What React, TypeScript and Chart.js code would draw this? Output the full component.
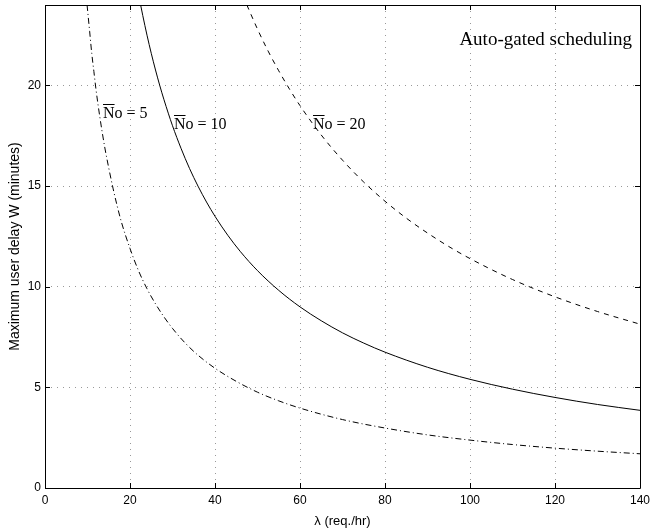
import React, { useEffect, useRef } from "react";
import { Chart, registerables } from "chart.js";

Chart.register(...registerables);

// No = 5 (dash-dot)
const lambda5 = [9.9, 10.5, 11, 11.5, 12, 13, 14, 15, 16, 17, 18, 20, 22, 24, 26, 28, 30, 33, 36, 40, 45, 50, 55, 60, 70, 80, 90, 100, 110, 120, 130, 140];
const w5 = [24.0, 22.7, 21.6, 20.7, 19.8, 18.3, 17.0, 15.9, 14.9, 14.0, 13.2, 11.9, 10.8, 9.9, 9.15, 8.5, 7.93, 7.2, 6.6, 5.95, 5.3, 4.76, 4.33, 3.97, 3.4, 2.98, 2.64, 2.38, 2.16, 1.98, 1.83, 1.7];

// No = 10 (solid)
const lambda10 = [22.5, 23, 24, 25, 26, 27, 28, 30, 32, 34, 36, 38, 40, 43, 46, 50, 55, 60, 65, 70, 75, 80, 90, 100, 110, 120, 130, 140];
const w10 = [24.0, 23.48, 22.5, 21.6, 20.77, 20.0, 19.29, 18.0, 16.88, 15.88, 15.0, 14.21, 13.5, 12.56, 11.74, 10.8, 9.82, 9.0, 8.31, 7.71, 7.2, 6.75, 6.0, 5.4, 4.91, 4.5, 4.15, 3.86];

// No = 20 (dashed)
const lambda20 = [47.5, 50, 52.5, 55, 57.5, 60, 65, 70, 75, 80, 85, 90, 95, 100, 110, 120, 130, 140];
const w20 = [24.0, 22.8, 21.71, 20.73, 19.83, 19.0, 17.54, 16.29, 15.2, 14.25, 13.41, 12.67, 12.0, 11.4, 10.36, 9.5, 8.77, 8.14];

const curveLabels = ["No = 5", "No = 10", "No = 20"];
const labelPos = [
  [13.65, 18.4],
  [30.35, 17.86],
  [63.06, 17.86],
];
const titleText = "Auto-gated scheduling";
const titlePos = [138.1, 22.0];
const xTitle = "λ (req./hr)";
const yTitle = "Maximum user delay W (minutes)";

const toPts = (xs: number[], ys: number[]) => xs.map((x, i) => ({ x, y: ys[i] }));

const framePlugin = {
  id: "frameAndText",
  afterDraw(chart: any) {
    const { ctx, chartArea } = chart;
    const xs = chart.scales.x;
    const ys = chart.scales.y;
    const { left, right, top, bottom } = chartArea;
    ctx.save();
    ctx.strokeStyle = "#000";
    ctx.lineWidth = 1;
    ctx.setLineDash([]);
    ctx.beginPath();
    ctx.rect(Math.round(left) + 0.5, Math.round(top) + 0.5, Math.round(right - left), Math.round(bottom - top));
    ctx.stroke();
    const tl = 5;
    ctx.beginPath();
    xs.ticks.forEach((t: any) => {
      const px = Math.round(xs.getPixelForValue(t.value)) + 0.5;
      ctx.moveTo(px, bottom);
      ctx.lineTo(px, bottom - tl);
      ctx.moveTo(px, top);
      ctx.lineTo(px, top + tl);
    });
    ys.ticks.forEach((t: any) => {
      const py = Math.round(ys.getPixelForValue(t.value)) + 0.5;
      ctx.moveTo(left, py);
      ctx.lineTo(left + tl, py);
      ctx.moveTo(right, py);
      ctx.lineTo(right - tl, py);
    });
    ctx.stroke();

    // curve labels
    ctx.fillStyle = "#000";
    ctx.textBaseline = "alphabetic";
    ctx.textAlign = "left";
    ctx.font = '16px "Liberation Serif", "Times New Roman", serif';
    curveLabels.forEach((txt, i) => {
      const px = xs.getPixelForValue(labelPos[i][0]);
      const py = ys.getPixelForValue(labelPos[i][1]);
      ctx.fillText(txt, px, py);
      const nW = ctx.measureText("N").width;
      ctx.beginPath();
      ctx.moveTo(px, Math.round(py - 14) + 0.5);
      ctx.lineTo(px + nW, Math.round(py - 14) + 0.5);
      ctx.stroke();
    });

    ctx.font = '19px "Liberation Serif", "Times New Roman", serif';
    ctx.textAlign = "right";
    ctx.fillText(titleText, xs.getPixelForValue(titlePos[0]), ys.getPixelForValue(titlePos[1]));
    ctx.restore();
  },
};

export default function App() {
  const ref = useRef<HTMLCanvasElement | null>(null);
  useEffect(() => {
    if (!ref.current) return;
    const tickFont = { family: '"Liberation Sans", Arial, sans-serif', size: 12 };
    const common = {
      borderColor: "#000",
      borderWidth: 1,
      pointRadius: 0,
      fill: false,
      cubicInterpolationMode: "monotone" as const,
    };
    const chart = new Chart(ref.current, {
      type: "line",
      data: {
        datasets: [
          { ...common, label: curveLabels[0], data: toPts(lambda5, w5), borderDash: [6, 3, 1, 3] },
          { ...common, label: curveLabels[1], data: toPts(lambda10, w10) },
          { ...common, label: curveLabels[2], data: toPts(lambda20, w20), borderDash: [5, 5] },
        ],
      },
      options: {
        animation: false,
        responsive: false,
        maintainAspectRatio: false,
        layout: { padding: { left: 0, right: 12, top: 5, bottom: 0 } },
        plugins: { legend: { display: false }, tooltip: { enabled: false } },
        scales: {
          x: {
            type: "linear",
            min: 0,
            max: 140,
            ticks: { stepSize: 20, color: "#000", font: tickFont, padding: 5, maxRotation: 0, includeBounds: false },
            grid: { color: "#999", drawTicks: false, lineWidth: 1 },
            border: { display: false, dash: [1, 5] },
            title: { display: true, text: xTitle, color: "#000", font: { family: '"Liberation Sans", Arial, sans-serif', size: 13 }, padding: { top: 2, bottom: 0 } },
            afterFit: (s: any) => {
              s.height = 41;
              s.paddingLeft = 0;
              s.paddingRight = 0;
            },
          },
          y: {
            type: "linear",
            min: 0,
            max: 24,
            ticks: { stepSize: 5, color: "#000", font: tickFont, padding: 4, includeBounds: false },
            grid: { color: "#999", drawTicks: false, lineWidth: 1 },
            border: { display: false, dash: [1, 5] },
            title: { display: true, text: yTitle, color: "#000", font: { family: '"Liberation Sans", Arial, sans-serif', size: 14 }, padding: { top: 7, bottom: 0 } },
            afterFit: (s: any) => {
              s.width = 45;
              s.paddingTop = 0;
              s.paddingBottom = 0;
            },
          },
        },
      },
      plugins: [framePlugin],
    });
    return () => chart.destroy();
  }, []);
  return (
    <div style={{ position: "absolute", left: 0, top: 0, width: 652, height: 529, background: "#fff" }}>
      <canvas ref={ref} width={652} height={529} style={{ display: "block", width: 652, height: 529 }} />
    </div>
  );
}
